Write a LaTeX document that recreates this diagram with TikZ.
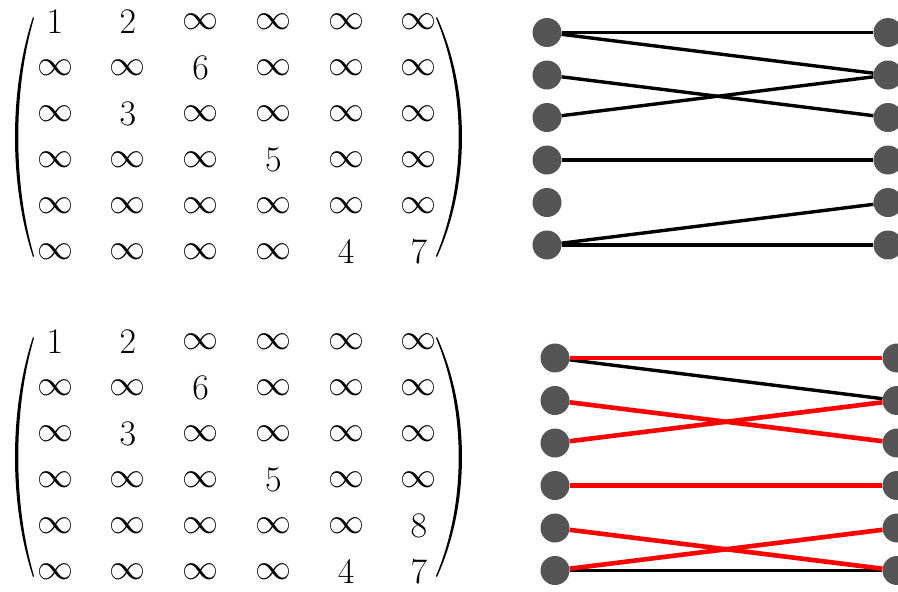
\documentclass[tikz,border=0pt]{standalone}
\usepackage{fix-cm}
\usepackage{tikz}
\usepackage{xcolor}
\usetikzlibrary{matrix}
\usetikzlibrary{shapes.geometric}

\definecolor{vgray}{RGB}{85,85,85}
\definecolor{mred}{RGB}{255,0,0}

\begin{document}
\begin{tikzpicture}[x=1pt,y=-1pt,
  vtx/.style={circle,fill=vgray,inner sep=0pt,minimum size=29pt},
  edge/.style={line width=3.4pt,black},
  hit/.style={line width=4.6pt,mred},
  wmat/.style={matrix of math nodes,inner sep=0pt,column sep=32.8pt,row sep=16pt,
    nodes={anchor=center,inner sep=0pt,minimum width=40pt,minimum height=30pt,
      font=\fontsize{36}{42}\selectfont}}]
  \useasboundingbox (0,0) rectangle (898,592);

  % weight matrices
  \matrix (mt) [wmat] at (237,137) {
    1 & 2 & \infty & \infty & \infty & \infty\\
    \infty & \infty & 6 & \infty & \infty & \infty\\
    \infty & 3 & \infty & \infty & \infty & \infty\\
    \infty & \infty & \infty & 5 & \infty & \infty\\
    \infty & \infty & \infty & \infty & \infty & \infty\\
    \infty & \infty & \infty & \infty & 4 & 7\\
  };
  \matrix (mb) [wmat] at (237,457) {
    1 & 2 & \infty & \infty & \infty & \infty\\
    \infty & \infty & 6 & \infty & \infty & \infty\\
    \infty & 3 & \infty & \infty & \infty & \infty\\
    \infty & \infty & \infty & 5 & \infty & \infty\\
    \infty & \infty & \infty & \infty & \infty & 8\\
    \infty & \infty & \infty & \infty & 4 & 7\\
  };
  % brackets
  \foreach \dy in {0,320} {
    \fill[shift={(0,\dy)}] (33,17) .. controls (9,90) and (9,184) .. (33,257)
      -- (34,256) .. controls (13,184) and (13,90) .. (34,18) -- cycle;
    \fill[shift={(0,\dy)}] (437,17) .. controls (470.3,90) and (470.3,184) .. (437,257)
      -- (436,256) .. controls (466.3,184) and (466.3,90) .. (436,18) -- cycle;
  }

  % upper graph
  \path (547,32.5)
    node (a1) [vtx] {} ++(0,42.5)
    node (a2) [vtx] {} ++(0,42.5)
    node (a3) [vtx] {} ++(0,42.5)
    node (a4) [vtx] {} ++(0,42.5)
    node (a5) [vtx] {} ++(0,42.5)
    node (a6) [vtx] {};
  \path (888,32.5)
    node (b1) [vtx] {} ++(0,42.5)
    node (b2) [vtx] {} ++(0,42.5)
    node (b3) [vtx] {} ++(0,42.5)
    node (b4) [vtx] {} ++(0,42.5)
    node (b5) [vtx] {} ++(0,42.5)
    node (b6) [vtx] {};
  \draw[edge] (a1) -- (b1);
  \draw[edge] (a1) -- (b2);
  \draw[edge] (a2) -- (b3);
  \draw[edge] (a3) -- (b2);
  \draw[edge] (a4) -- (b4);
  \draw[edge] (a6) -- (b5);
  \draw[edge] (a6) -- (b6);

  % lower graph
  \path (555,358)
    node (c1) [vtx] {} ++(0,42.5)
    node (c2) [vtx] {} ++(0,42.5)
    node (c3) [vtx] {} ++(0,42.5)
    node (c4) [vtx] {} ++(0,42.5)
    node (c5) [vtx] {} ++(0,42.5)
    node (c6) [vtx] {};
  \path (897,358)
    node (d1) [vtx] {} ++(0,42.5)
    node (d2) [vtx] {} ++(0,42.5)
    node (d3) [vtx] {} ++(0,42.5)
    node (d4) [vtx] {} ++(0,42.5)
    node (d5) [vtx] {} ++(0,42.5)
    node (d6) [vtx] {};
  \draw[edge] (c1) -- (d2);
  \draw[edge] (c6) -- (d6);
  \draw[hit] (c1) -- (d1);
  \draw[hit] (c2) -- (d3);
  \draw[hit] (c3) -- (d2);
  \draw[hit] (c4) -- (d4);
  \draw[hit] (c5) -- (d6);
  \draw[hit] (c6) -- (d5);
\end{tikzpicture}
\end{document}
